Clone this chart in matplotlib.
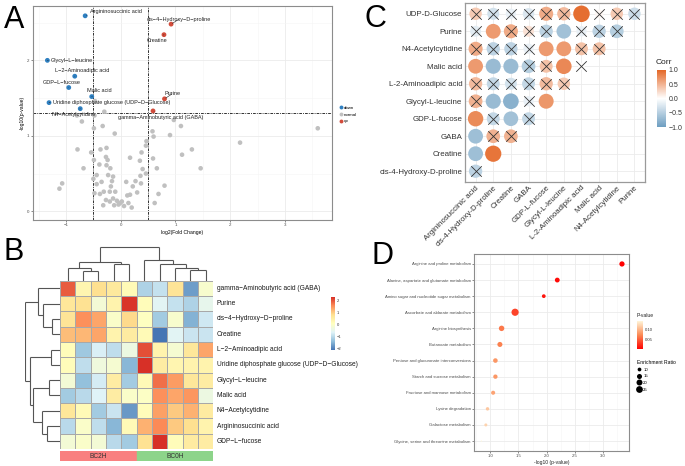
import numpy as np
import matplotlib
matplotlib.use("Agg")
import matplotlib.pyplot as plt
from matplotlib.colors import LinearSegmentedColormap, Normalize
from matplotlib.cm import ScalarMappable
from matplotlib.lines import Line2D
from matplotlib.collections import LineCollection

plt.rcParams['font.family'] = ['Liberation Sans', 'DejaVu Sans']

M = '\u2212'

# ===================== DATA =====================
# ---- Panel A: volcano ----
sig_names = ["Argininosuccinic acid", f"cis{M}4{M}Hydroxy{M}D{M}proline", "Creatine",
             f"Glycyl{M}L{M}leucine", f"L{M}2{M}Aminoadipic acid", f"GDP{M}L{M}fucose",
             "Malic acid", "Purine", f"Uridine diphosphate glucose (UDP{M}D{M}Glucose)",
             f"N4{M}Acetylcytidine", f"gamma{M}Aminobutyric acid (GABA)"]
sig_log2fc = [-0.65, 0.92, 0.79, -1.34, -0.84, -0.95, -0.53, 0.80, -1.31, -0.74, 0.59]
sig_neglogp = [2.59, 2.48, 2.34, 2.00, 1.79, 1.64, 1.52, 1.49, 1.44, 1.36, 1.33]
sig_status = ["down", "up", "up", "down", "down", "down", "down", "up", "down", "down", "up"]

ns_log2fc = [-0.71, -0.48, -0.30, -0.33, -0.49, -0.79, -0.54, -0.68, -1.07, -1.12,
             -0.49, -0.50, -0.48, -0.37, -0.26, -0.27, -0.24, -0.39, -0.26, -0.19,
             -0.44, -0.23, -0.14, -0.35, -0.44, -0.16, -0.18, -0.31, -0.20, -0.38,
             -0.10, -0.27, -0.20, -0.14, -0.07, -0.01, 0.02, -0.04, -0.12, -0.32,
             0.06, 0.20, 0.12, 0.17, 0.14, 0.10, 0.17, 0.27, 0.22, 0.30,
             0.37, 0.36, 0.40, 0.35, 0.38, 0.47, 0.46, 0.46, 0.58, 0.60,
             0.59, 0.66, 0.69, 0.62, 0.80, 0.90, 0.97, 1.10, 1.12, 1.30,
             1.46, 2.18, 3.60, -0.47, -0.80, -0.11]
ns_neglogp = [1.19, 1.27, 1.32, 1.13, 1.10, 0.82, 0.78, 0.57, 0.37, 0.30,
              0.68, 0.43, 0.24, 0.82, 0.84, 0.72, 0.68, 0.62, 0.61, 0.57,
              0.48, 0.48, 0.46, 0.39, 0.36, 0.40, 0.33, 0.26, 0.26, 0.23,
              0.26, 0.15, 0.13, 0.17, 0.14, 0.11, 0.13, 0.09, 0.08, 0.08,
              0.07, 0.05, 0.21, 0.22, 0.11, 0.39, 0.71, 0.40, 0.33, 0.25,
              0.37, 0.47, 0.56, 0.67, 0.78, 0.93, 0.87, 0.50, 1.06, 0.99,
              0.70, 0.57, 0.23, 0.11, 0.34, 1.01, 1.21, 1.13, 0.75, 0.82,
              0.57, 0.91, 1.10, 1.46, 1.27, 1.03]
fc_cut = 0.5
p_cut = 0.05

# ---- Panel B: heatmap ----
heat_rows = [f"gamma{M}Aminobutyric acid (GABA)", "Purine", f"cis{M}4{M}Hydroxy{M}D{M}proline",
             "Creatine", f"L{M}2{M}Aminoadipic acid",
             f"Uridine diphosphate glucose (UDP{M}D{M}Glucose)", f"Glycyl{M}L{M}leucine",
             "Malic acid", f"N4{M}Acetylcytidine", "Argininosuccinic acid", f"GDP{M}L{M}fucose"]
heat_groups = ["BC2H"] * 5 + ["BC0H"] * 5
heat_values = [
    [1.90, 0.30, 0.80, 0.60, 0.20, -1.10, -0.90, 0.70, -1.70, -0.10],
    [0.65, 0.75, -0.20, 0.35, 2.20, 0.15, -0.60, -0.90, -1.10, -0.50],
    [0.70, 1.50, 1.30, -0.05, 0.85, 0.05, -1.20, -0.10, -1.50, -0.80],
    [1.10, 1.15, 1.30, 0.35, 0.55, 0.20, -2.10, -0.60, -0.85, -0.85],
    [0.15, -1.25, -0.70, -0.95, -0.35, 2.00, 0.35, -0.15, 0.65, 1.30],
    [0.15, -0.95, -0.30, -0.15, -1.45, 2.25, 0.50, 0.30, 0.35, 0.35],
    [-0.20, -1.35, -0.75, 0.50, -1.20, 0.20, 1.75, 1.40, 0.65, 0.50],
    [-1.20, -1.00, -0.65, 0.50, -0.05, 0.00, 1.50, 1.30, 1.45, -0.35],
    [0.65, 0.20, -1.20, -0.85, -1.75, 0.15, 1.35, 1.00, 1.20, 0.55],
    [-1.00, -0.05, -0.95, -1.45, 0.20, 1.20, 1.55, 1.00, 0.80, 0.35],
    [-0.20, -0.05, -0.20, -1.00, -1.20, 0.75, 2.25, 0.15, 0.55, 0.50],
]
# dendrograms: (left, right, height); indices >= n refer to earlier merges
col_merges = [(1, 2, 30), (0, 10, 38), (3, 4, 48), (11, 12, 55), (8, 9, 32),
              (7, 14, 38), (6, 15, 50), (5, 16, 60), (13, 17, 100)]
row_merges = [(2, 3, 23), (1, 11, 50), (0, 12, 65), (4, 5, 27), (6, 7, 32),
              (9, 10, 40), (8, 16, 55), (15, 17, 80), (14, 18, 90), (13, 19, 105)]

# ---- Panel C: correlation ----
corr_vars = ["Argininosuccinic acid", "cis-4-Hydroxy-D-proline", "Creatine", "GABA",
             "GDP-L-fucose", "Glycyl-L-leucine", "L-2-Aminoadipic acid", "Malic acid",
             "N4-Acetylcytidine", "Purine", "UDP-D-Glucose"]
corr_lower = [
    [-0.45],
    [-0.66, 0.90],
    [-0.66, 0.50, 0.50],
    [0.76, -0.40, -0.64, -0.40],
    [0.50, -0.70, -0.80, -0.15, 0.68],
    [0.45, -0.40, -0.30, -0.40, 0.45, 0.35],
    [0.66, -0.70, -0.70, -0.50, 0.40, 0.78, 0.02],
    [0.55, -0.45, -0.45, -0.15, 0.66, 0.66, 0.40, 0.40],
    [-0.20, 0.66, 0.55, 0.20, -0.45, -0.64, -0.15, -0.45, -0.50],
    [0.35, -0.30, -0.15, -0.25, 0.55, 0.45, 0.95, 0.05, 0.35, -0.35],
]
corr_insig = [
    [1],
    [0, 0],
    [0, 1, 1],
    [0, 1, 0, 1],
    [1, 0, 0, 1, 0],
    [1, 1, 1, 1, 1, 1],
    [0, 0, 0, 1, 1, 0, 1],
    [1, 1, 1, 1, 0, 0, 1, 1],
    [1, 0, 1, 1, 1, 0, 1, 1, 1],
    [1, 1, 1, 1, 1, 1, 0, 1, 1, 1],
]

# ---- Panel D: pathway enrichment ----
pathways = ["Arginine and proline metabolism", "Alanine, aspartate and glutamate metabolism",
            "Amino sugar and nucleotide sugar metabolism", "Ascorbate and aldarate metabolism",
            "Arginine biosynthesis", "Butanoate metabolism",
            "Pentose and glucuronate interconversions", "Starch and sucrose metabolism",
            "Fructose and mannose metabolism", "Lysine degradation", "Galactose metabolism",
            "Glycine, serine and threonine metabolism"]
path_neglogp = [3.34, 2.19, 1.95, 1.44, 1.20, 1.17, 1.09, 1.09, 1.05, 0.95, 0.92, 0.84]
path_enrich = [16, 14, 10, 28, 17, 15, 13, 12, 11, 9, 8, 6]
size_breaks = [10, 15, 20, 25]

# ===================== LAYOUT =====================
W, H = 685, 466
fig = plt.figure(figsize=(W / 100, H / 100), dpi=100)


def rect(x0, y0, x1, y1):
    return [x0 / W, 1 - y1 / H, (x1 - x0) / W, (y1 - y0) / H]


def fx(x):
    return x / W


def fy(y):
    return 1 - y / H


for letter, (lx, ly) in zip("ABCD", [(4, 28), (4, 260), (364, 27), (372, 264)]):
    fig.text(fx(lx), fy(ly), letter, ha='left', va='baseline', fontsize=22, color='black')

GRID = '#EBEBEB'
BORDER = '#8C8C8C'

# ===================== PANEL A =====================
axA = fig.add_axes(rect(33, 6, 332, 220))
axA.set_xlim(-1.603, 3.86)
axA.set_ylim(-0.115, 2.72)
axA.set_xticks([-1, 0, 1, 2, 3])
axA.set_yticks([0, 1, 2])
axA.set_xticks([-1.5, -0.5, 0.5, 1.5, 2.5, 3.5], minor=True)
axA.set_yticks([0.5, 1.5, 2.5], minor=True)
axA.grid(True, which='major', color=GRID, lw=0.6)
axA.grid(True, which='minor', color='#F5F5F5', lw=0.4)
axA.set_axisbelow(True)
axA.tick_params(which='major', length=1.5, width=0.4, color='#333333', labelsize=3.2,
                pad=1, labelcolor='#4D4D4D')
axA.tick_params(which='minor', length=0)
for s in axA.spines.values():
    s.set_color(BORDER)
    s.set_linewidth(0.8)
axA.set_xlabel('log2(Fold Change)', fontsize=3.6, labelpad=1.5)
axA.set_ylabel('-log10(p-value)', fontsize=3.6, labelpad=1.5)
dash = (0, (3, 1.2, 1, 1.2))
axA.axhline(-np.log10(p_cut), color='#222222', lw=0.65, ls=dash, zorder=1)
axA.axvline(-fc_cut, color='#222222', lw=0.65, ls=dash, zorder=1)
axA.axvline(fc_cut, color='#222222', lw=0.65, ls=dash, zorder=1)

status_colors = {"down": "#2E7FC0", "normal": "#C0C0C0", "up": "#D24B3A"}
axA.scatter(ns_log2fc, ns_neglogp, s=11, c=status_colors["normal"], edgecolors='none', zorder=2)
axA.scatter(sig_log2fc, sig_neglogp, s=12, c=[status_colors[s] for s in sig_status],
            edgecolors='none', zorder=3)

# label offsets (pixels) and alignment
label_layout = [((4.7, 4.0), 'left'), ((7.5, 4.6), 'center'), ((-7, -5.7), 'center'),
                ((3.7, 0), 'left'), ((7.5, 5.3), 'center'), ((-7.5, 5.3), 'center'),
                ((7.3, 5.7), 'center'), ((7.7, 5.0), 'center'), ((4, 0), 'left'),
                ((-7, -5.7), 'center'), ((7.8, -6.3), 'center')]
for name, x, y, ((dx, dy), ha) in zip(sig_names, sig_log2fc, sig_neglogp, label_layout):
    axA.annotate(name, (x, y), xytext=(dx * 0.72, dy * 0.72), textcoords='offset points',
                 ha=ha, va='center', fontsize=4, color='#222222', zorder=4,
                 arrowprops=dict(arrowstyle='-', lw=0.4, color='#222222', shrinkA=0, shrinkB=1))

leg_handles = [Line2D([], [], ls='', marker='o', markersize=2.8, markeredgewidth=0,
                      color=status_colors[k]) for k in ["down", "normal", "up"]]
axA.legend(leg_handles, ["down", "normal", "up"], loc='center left',
           bbox_to_anchor=(fx(337), fy(114.5)), bbox_transform=fig.transFigure,
           frameon=False, fontsize=3.2, handletextpad=0.2, labelspacing=0.6,
           handlelength=0.8, borderpad=0)

# ===================== PANEL B =====================
vals = np.array(heat_values)
nr, nc = vals.shape
cmapB = LinearSegmentedColormap.from_list(
    'rdylbu7', ['#4575B4', '#91BFDB', '#E0F3F8', '#FFFFBF', '#FEE090', '#FC8D59', '#D73027'])
normB = Normalize(vmin=vals.min(), vmax=vals.max())

axH = fig.add_axes(rect(60, 280.7, 213.3, 449))
axH.pcolormesh(np.arange(nc + 1), np.arange(nr + 1), vals, cmap=cmapB, norm=normB,
               edgecolors='#A8A8A8', linewidth=0.5)
axH.set_xlim(0, nc)
axH.set_ylim(nr, 0)
axH.axis('off')
for i, name in enumerate(heat_rows):
    axH.text(nc + 0.22, i + 0.5, name, ha='left', va='center', fontsize=4.8,
             color='#1A1A1A', clip_on=False)


def dendro_segments(n, merges):
    pos = {i: i + 0.5 for i in range(n)}
    hgt = {i: 0.0 for i in range(n)}
    segs = []
    for k, (a, b, h) in enumerate(merges):
        segs.append([(pos[a], hgt[a]), (pos[a], h)])
        segs.append([(pos[b], hgt[b]), (pos[b], h)])
        segs.append([(pos[a], h), (pos[b], h)])
        pos[n + k] = (pos[a] + pos[b]) / 2
        hgt[n + k] = h
    return segs


axCD = fig.add_axes(rect(60, 245.7, 213.3, 280.7))
axCD.add_collection(LineCollection(dendro_segments(nc, col_merges), colors='#555555', lw=0.8))
axCD.set_xlim(0, nc)
axCD.set_ylim(0, 103)
axCD.axis('off')

axRD = fig.add_axes(rect(25, 280.7, 60, 449))
rsegs = [[(p[1], p[0]) for p in seg] for seg in dendro_segments(nr, row_merges)]
axRD.add_collection(LineCollection(rsegs, colors='#555555', lw=0.8))
axRD.set_xlim(105, 0)
axRD.set_ylim(nr, 0)
axRD.axis('off')

group_colors = {"BC2H": "#F98080", "BC0H": "#8DD48A"}
axAn = fig.add_axes(rect(60, 451, 213.3, 461))
for i, g in enumerate(heat_groups):
    axAn.bar(i + 0.5, 1, width=1, color=group_colors[g], edgecolor=group_colors[g], lw=0.3)
for g in dict.fromkeys(heat_groups):
    idx = [i for i, gg in enumerate(heat_groups) if gg == g]
    axAn.text((min(idx) + max(idx) + 1) / 2, 0.5, g, ha='center', va='center',
              fontsize=4.8, color='#333333')
axAn.set_xlim(0, nc)
axAn.set_ylim(0, 1)
axAn.axis('off')

caxB = fig.add_axes(rect(331, 297, 335, 350))
cbB = fig.colorbar(ScalarMappable(norm=normB, cmap=cmapB), cax=caxB, ticks=[-2, -1, 0, 1, 2])
cbB.outline.set_visible(False)
caxB.tick_params(length=0, labelsize=3, pad=1.5, labelcolor='#333333')

# ===================== PANEL C =====================
axC = fig.add_axes(rect(465, 3.3, 645, 181.7))
ncv = len(corr_vars) - 1
axC.set_xlim(0.4, ncv + 0.6)
axC.set_ylim(0.4, ncv + 0.6)
axC.set_xticks(range(1, ncv + 1))
axC.set_yticks(range(1, ncv + 1))
axC.set_xticklabels(corr_vars[:ncv], rotation=45, ha='right', va='top',
                    rotation_mode='anchor', fontsize=5.7, color='#333333')
axC.set_yticklabels(corr_vars[1:], fontsize=5.7, color='#333333')
axC.tick_params(length=0, pad=2)
axC.grid(True, color=GRID, lw=0.6)
axC.set_axisbelow(True)
for s in axC.spines.values():
    s.set_color('#9A9A9A')
    s.set_linewidth(0.9)

cmapC = LinearSegmentedColormap.from_list('corr', ['#6D9EC1', '#FFFFFF', '#E46726'])
normC = Normalize(vmin=-1, vmax=1)
cx, cy, cv, xx, xy = [], [], [], [], []
for j, row in enumerate(corr_lower, start=1):
    for i, v in enumerate(row):
        cx.append(i + 1)
        cy.append(j)
        cv.append(v)
        if corr_insig[j - 1][i]:
            xx.append(i + 1)
            xy.append(j)
cv = np.array(cv)
absv = np.abs(cv)
t = (absv - absv.min()) / (absv.max() - absv.min())
diam_px = 16.5 * (4 + 6 * np.sqrt(t)) / 10
axC.scatter(cx, cy, s=(diam_px * 0.72) ** 2, c=cv, cmap=cmapC, norm=normC,
            edgecolors='none', zorder=3)
axC.scatter(xx, xy, marker='x', s=(10.5 * 0.72) ** 2, c='#333333', linewidths=0.6, zorder=4)

caxC = fig.add_axes(rect(657, 70, 666, 127))
cbC = fig.colorbar(ScalarMappable(norm=normC, cmap=cmapC), cax=caxC,
                   ticks=[-1, -0.5, 0, 0.5, 1])
cbC.outline.set_visible(False)
cbC.set_ticklabels([f"{v:.1f}".replace('-', M) for v in [-1, -0.5, 0, 0.5, 1]])
caxC.tick_params(length=0, labelsize=5, pad=2, labelcolor='#333333')
fig.text(fx(656), fy(64), 'Corr', ha='left', va='baseline', fontsize=6, color='#222222')

# ===================== PANEL D =====================
axD = fig.add_axes(rect(474.3, 254.3, 629, 450.7))
npw = len(pathways)
ypos = np.arange(1, npw + 1)
pvals = 10 ** (-np.array(path_neglogp))
cmapD = LinearSegmentedColormap.from_list('pv', ['#FF0000', '#FB8A55', '#FFF8DC'])
normD = Normalize(vmin=pvals.min(), vmax=pvals.max())
enr = np.array(path_enrich, dtype=float)
emin, emax = enr.min(), enr.max()


def dot_diam_px(v):
    tt = (np.asarray(v, dtype=float) - emin) / (emax - emin)
    return 1.2 * (1 + 5 * np.sqrt(np.clip(tt, 0, 1)))


axD.scatter(path_neglogp, ypos, s=(dot_diam_px(enr) * 0.72) ** 2, c=pvals, cmap=cmapD,
            norm=normD, edgecolors='none', zorder=3)
x0 = min(path_neglogp)
x1 = max(path_neglogp)
pad = 0.05 * (x1 - x0)
axD.set_xlim(x0 - pad, x1 + pad)
axD.set_ylim(npw + 0.6, 0.4)
axD.set_yticks(ypos)
axD.set_yticklabels(pathways, fontsize=3.1, color='#4D4D4D')
axD.set_xticks([1.0, 1.5, 2.0, 2.5, 3.0])
axD.set_xticklabels(["1.0", "1.5", "2.0", "2.5", "3.0"], fontsize=3.1, color='#4D4D4D')
axD.set_xticks([0.75, 1.25, 1.75, 2.25, 2.75, 3.25], minor=True)
axD.grid(True, which='major', color=GRID, lw=0.6)
axD.grid(True, which='minor', axis='x', color='#F5F5F5', lw=0.4)
axD.set_axisbelow(True)
axD.tick_params(which='major', length=1.5, width=0.4, color='#333333', pad=1)
axD.tick_params(which='minor', length=0)
for s in axD.spines.values():
    s.set_color(BORDER)
    s.set_linewidth(0.8)
axD.set_xlabel('-log10 (p-value)', fontsize=3.6, labelpad=1.5, color='#222222')

caxD = fig.add_axes(rect(637.3, 320.7, 642.7, 349.3))
cbD = fig.colorbar(ScalarMappable(norm=normD, cmap=cmapD), cax=caxD, ticks=[0.0, 0.05, 0.10])
cbD.outline.set_visible(False)
cbD.set_ticklabels(["0.00", "0.05", "0.10"])
caxD.tick_params(length=0, labelsize=3.1, pad=1.5, labelcolor='#333333')
fig.text(fx(637), fy(317), 'P-value', ha='left', va='baseline', fontsize=3.6, color='#222222')

size_handles = [Line2D([], [], ls='', marker='o', color='black', markeredgewidth=0,
                       markersize=float(dot_diam_px(b)) * 0.72) for b in size_breaks]
legD = axD.legend(size_handles, [str(b) for b in size_breaks], loc='upper left',
                  bbox_to_anchor=(fx(635), fy(358)), bbox_transform=fig.transFigure,
                  frameon=False, fontsize=3.1, title='Enrichment Ratio', title_fontsize=3.6,
                  handletextpad=0.4, labelspacing=0.6, handlelength=1.0, borderpad=0)
legD._legend_box.align = 'left'

fig.savefig('out.png', dpi=100)
